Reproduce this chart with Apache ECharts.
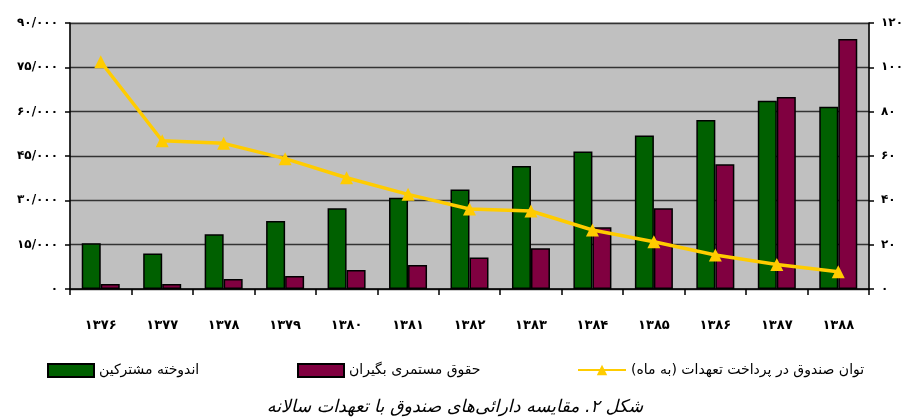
<!DOCTYPE html>
<html>
<head>
<meta charset="utf-8">
<script src="https://cdn.jsdelivr.net/npm/echarts@6/dist/echarts.min.js"></script>
<style>
  html, body { margin: 0; padding: 0; background: #fff; }
  #chart { width: 910px; height: 417px; }
</style>
</head>
<body>
<div id="chart"></div>
<script>
// سال‌ها (محور افقی)
const years = ['۱۳۷۶', '۱۳۷۷', '۱۳۷۸', '۱۳۷۹', '۱۳۸۰', '۱۳۸۱', '۱۳۸۲', '۱۳۸۳', '۱۳۸۴', '۱۳۸۵', '۱۳۸۶', '۱۳۸۷', '۱۳۸۸']
// اندوخته مشترکین
const savings = [15500, 12000, 18500, 23000, 27300, 30900, 33700, 41600, 46500, 51900, 57200, 63700, 61700]
// حقوق مستمری بگیران
const pensions = [1700, 1700, 3400, 4400, 6400, 8100, 10700, 13800, 20900, 27300, 42200, 65000, 84600]
// توان صندوق در پرداخت تعهدات (به ماه)
const months = [102.5, 66.9, 65.7, 58.8, 50.2, 42.7, 36.1, 35.2, 26.6, 21.3, 15.3, 11.1, 7.8]

const seriesNames = ['اندوخته مشترکین', 'حقوق مستمری بگیران', 'توان صندوق در پرداخت تعهدات (به ماه)']
const caption = 'شکل ۲. مقایسه دارائی‌های صندوق با تعهدات سالانه'

const faFont = 'DejaVu Sans'

// عدد لاتین به رقم فارسی با جداکننده هزارگان
const toFa = (v) => {
  const s = String(v).replace(/\B(?=(\d{3})+(?!\d))/g, '/')
  return s.replace(/\d/g, (d) => '۰۱۲۳۴۵۶۷۸۹'[d])
}

const myChart = echarts.init(document.getElementById('chart'))

const legendText = { fontFamily: faFont, fontSize: 14, color: '#000' }

const option = {
  animation: false,
  title: {
    text: caption,
    left: 'center',
    top: 393,
    textStyle: { fontFamily: faFont, fontSize: 17.5, fontStyle: 'italic', fontWeight: 'normal', color: '#000' }
  },
  legend: [
    { data: [{ name: seriesNames[0], icon: 'rect' }], left: 42, top: 358, itemWidth: 46, itemHeight: 13, itemGap: 6, textStyle: legendText },
    { data: [{ name: seriesNames[1], icon: 'rect' }], left: 292, top: 358, itemWidth: 46, itemHeight: 13, textStyle: legendText },
    { data: [seriesNames[2]], left: 572, top: 358, itemWidth: 48, itemHeight: 13, textStyle: legendText }
  ],
  grid: {
    left: 70,
    right: 41,
    top: 23,
    bottom: 128,
    show: true,
    backgroundColor: '#c0c0c0',
    borderColor: '#808080',
    borderWidth: 1
  },
  xAxis: {
    type: 'category',
    data: years,
    axisLine: { lineStyle: { color: '#000', width: 1.5 } },
    axisTick: { show: true, length: 6, lineStyle: { color: '#000', width: 1.5 } },
    axisLabel: { margin: 30, color: '#000', fontFamily: faFont, fontSize: 13, fontWeight: 'bold' }
  },
  yAxis: [
    {
      type: 'value',
      min: 0,
      max: 90000,
      interval: 15000,
      axisLine: { show: true, lineStyle: { color: '#000', width: 1.5 } },
      axisTick: { show: true, length: 5, lineStyle: { color: '#000', width: 1.5 } },
      axisLabel: { margin: 12, color: '#000', fontFamily: faFont, fontSize: 12, fontWeight: 'bold', formatter: toFa },
      splitLine: { lineStyle: { color: '#333', width: 1.3 } }
    },
    {
      type: 'value',
      min: 0,
      max: 120,
      interval: 20,
      axisLine: { show: true, lineStyle: { color: '#000', width: 1.5 } },
      axisTick: { show: true, length: 5, lineStyle: { color: '#000', width: 1.5 } },
      axisLabel: { margin: 12, color: '#000', fontFamily: faFont, fontSize: 12, fontWeight: 'bold', formatter: toFa },
      splitLine: { show: false }
    }
  ],
  series: [
    {
      name: seriesNames[0],
      type: 'bar',
      data: savings,
      barWidth: 19,
      barGap: '0%',
      itemStyle: { color: '#006000', borderColor: '#000', borderWidth: 1.5 }
    },
    {
      name: seriesNames[1],
      type: 'bar',
      data: pensions,
      barWidth: 19,
      barGap: '0%',
      itemStyle: { color: '#800040', borderColor: '#000', borderWidth: 1.5 }
    },
    {
      name: seriesNames[2],
      type: 'line',
      yAxisIndex: 1,
      data: months,
      symbol: 'triangle',
      symbolSize: 13,
      lineStyle: { color: '#ffcc00', width: 3.5 },
      itemStyle: { color: '#ffcc00' },
      z: 5
    }
  ]
}

myChart.setOption(option)
window.addEventListener('resize', () => {
  myChart.resize()
})
</script>
</body>
</html>
